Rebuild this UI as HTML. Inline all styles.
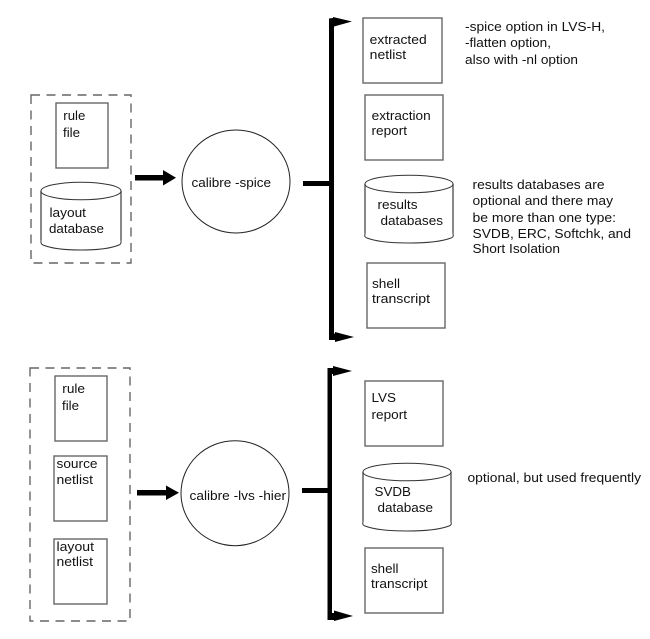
<!DOCTYPE html>
<html>
<head>
<meta charset="utf-8">
<style>
html,body{margin:0;padding:0;background:#fff;width:650px;height:639px;overflow:hidden}
svg{display:block}
text{font-family:"Liberation Sans",sans-serif;font-size:13px;fill:#111}
.r{fill:#fff;stroke:#666;stroke-width:1.4}
.d{fill:none;stroke:#666;stroke-width:1.4;stroke-dasharray:9 6.5}
.c{fill:#fff;stroke:#222;stroke-width:1}
.k{fill:#fff;stroke:#333;stroke-width:1}
.y{fill:none;stroke:#555;stroke-width:1.4}
</style>
</head>
<body>
<svg width="650" height="639" viewBox="0 0 650 639" xmlns="http://www.w3.org/2000/svg">
<!-- top: inputs -->
<rect class="d" x="31" y="95" width="100" height="168"/>
<rect class="r" x="56" y="103" width="52" height="65"/>
<path class="k" d="M41 191 V241 Q40.5 244 43 245 Q55 250 81 250 Q107 250 119 245 Q121.5 244 121 241 V191 Z"/>
<path class="y" d="M41 191 V240 M121 191 V240"/>
<ellipse class="k" cx="81" cy="191" rx="40" ry="8.8"/>
<path d="M135 175 H163 V170 L176 177.7 L163 185.5 V180.5 H135 Z" fill="#000"/>
<ellipse class="c" cx="236" cy="181.5" rx="54" ry="51.5"/>
<!-- top: outputs -->
<rect x="303" y="181" width="27" height="5" fill="#000"/>
<path d="M329 20 H334 V336 H329 Z" fill="#000"/>
<path d="M329 18.500 L333 18 V17 L352 21.500 L334 26.500 V24 H329 Z" fill="#000"/>
<path d="M329 333.500 H335 V332 L354 337 L335 342 V340 H329 Z" fill="#000"/>
<rect class="r" x="363" y="18" width="79" height="65"/>
<rect class="r" x="365" y="95" width="78" height="65"/>
<path class="k" d="M365 184 V234 Q364 237 367 238 Q380 243 409 243 Q438 243 451 238 Q454 237 453 234 V184 Z"/>
<path class="y" d="M365 184 V233 M453 184 V233"/>
<ellipse class="k" cx="409" cy="184" rx="44" ry="8.8"/>
<rect class="r" x="367" y="263" width="78" height="65"/>
<!-- bottom: inputs -->
<rect class="d" x="30" y="368" width="100" height="253"/>
<rect class="r" x="55" y="376" width="52" height="65"/>
<rect class="r" x="54" y="456" width="53" height="65"/>
<rect class="r" x="54" y="539" width="53" height="65"/>
<path d="M137 490 H166 V485.500 L179 492.700 L166 500 V495.500 H137 Z" fill="#000"/>
<ellipse class="c" cx="235" cy="493.200" rx="54" ry="52.500"/>
<!-- bottom: outputs -->
<rect x="302" y="488" width="27" height="5" fill="#000"/>
<path d="M327.500 369 H332 V618 H327.500 Z" fill="#000"/>
<path d="M327.500 368 H333 V366 L352 371 L333 376 V374 H327.500 Z" fill="#000"/>
<path d="M327.500 613 H334 V610.500 L353 616 L334 621 V620 H327.500 Z" fill="#000"/>
<rect class="r" x="365" y="381" width="78" height="65"/>
<path class="k" d="M363 472 V522 Q362 525 365 526 Q378 531 407 531 Q436 531 449 526 Q452 525 451 522 V472 Z"/>
<path class="y" d="M363 472 V521 M451 472 V521"/>
<ellipse class="k" cx="407" cy="472" rx="44" ry="8.800"/>
<rect class="r" x="365" y="548" width="78" height="65"/>
<!-- labels -->
<g lengthAdjust="spacingAndGlyphs">
<text x="63.300" y="120" textLength="22" lengthAdjust="spacingAndGlyphs">rule</text>
<text x="63" y="137" textLength="17" lengthAdjust="spacingAndGlyphs">file</text>
<text x="49.500" y="217" textLength="36.500" lengthAdjust="spacingAndGlyphs">layout</text>
<text x="49" y="233" textLength="55" lengthAdjust="spacingAndGlyphs">database</text>
<text x="191.500" y="187" textLength="79.500" lengthAdjust="spacingAndGlyphs">calibre -spice</text>
<text x="369.700" y="44" textLength="57" lengthAdjust="spacingAndGlyphs">extracted</text>
<text x="369.700" y="59" textLength="36.500" lengthAdjust="spacingAndGlyphs">netlist</text>
<text x="465" y="31" textLength="140" lengthAdjust="spacingAndGlyphs">-spice option in LVS-H,</text>
<text x="465" y="47" textLength="86" lengthAdjust="spacingAndGlyphs">-flatten option,</text>
<text x="465" y="64" textLength="113" lengthAdjust="spacingAndGlyphs">also with -nl option</text>
<text x="371.700" y="120" textLength="59" lengthAdjust="spacingAndGlyphs">extraction</text>
<text x="371.500" y="135" textLength="35.500" lengthAdjust="spacingAndGlyphs">report</text>
<text x="377.500" y="209" textLength="40" lengthAdjust="spacingAndGlyphs">results</text>
<text x="380.500" y="225" textLength="62.500" lengthAdjust="spacingAndGlyphs">databases</text>
<text x="472.500" y="189" textLength="132" lengthAdjust="spacingAndGlyphs">results databases are</text>
<text x="472.500" y="205" textLength="140.500" lengthAdjust="spacingAndGlyphs">optional and there may</text>
<text x="472.500" y="222" textLength="143.500" lengthAdjust="spacingAndGlyphs">be more than one type:</text>
<text x="472.500" y="238" textLength="158.500" lengthAdjust="spacingAndGlyphs">SVDB, ERC, Softchk, and</text>
<text x="472.500" y="253" textLength="87.500" lengthAdjust="spacingAndGlyphs">Short Isolation</text>
<text x="372" y="288" textLength="28" lengthAdjust="spacingAndGlyphs">shell</text>
<text x="372" y="303" textLength="58" lengthAdjust="spacingAndGlyphs">transcript</text>
<text x="62.300" y="393" textLength="22.700" lengthAdjust="spacingAndGlyphs">rule</text>
<text x="62" y="410" textLength="17" lengthAdjust="spacingAndGlyphs">file</text>
<text x="56.500" y="468" textLength="41" lengthAdjust="spacingAndGlyphs">source</text>
<text x="56.500" y="484" textLength="36.500" lengthAdjust="spacingAndGlyphs">netlist</text>
<text x="56.500" y="551" textLength="37.500" lengthAdjust="spacingAndGlyphs">layout</text>
<text x="56.500" y="566" textLength="36.500" lengthAdjust="spacingAndGlyphs">netlist</text>
<text x="189.500" y="500" textLength="96.500" lengthAdjust="spacingAndGlyphs">calibre -lvs -hier</text>
<text x="371.500" y="402" textLength="24.500" lengthAdjust="spacingAndGlyphs">LVS</text>
<text x="371.500" y="419" textLength="35.500" lengthAdjust="spacingAndGlyphs">report</text>
<text x="374.500" y="496" textLength="36.500" lengthAdjust="spacingAndGlyphs">SVDB</text>
<text x="377.500" y="512" textLength="55.500" lengthAdjust="spacingAndGlyphs">database</text>
<text x="467.500" y="482" textLength="173.500" lengthAdjust="spacingAndGlyphs">optional, but used frequently</text>
<text x="371" y="573" textLength="27.500" lengthAdjust="spacingAndGlyphs">shell</text>
<text x="371" y="588" textLength="56.500" lengthAdjust="spacingAndGlyphs">transcript</text>
</g>
</svg>
</body>
</html>
